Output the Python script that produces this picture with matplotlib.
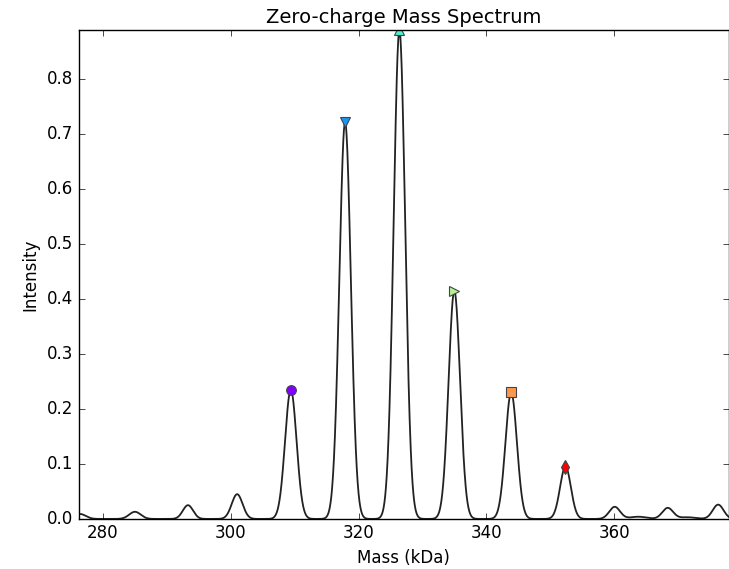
import numpy as np
import matplotlib
matplotlib.use("Agg")
import matplotlib.pyplot as plt

# Peak parameters (mass in kDa, intensity)
peak_mass = [276.4, 285.0, 293.3, 301.0, 309.4, 317.9, 326.4, 335.0, 343.9, 352.4, 360.1, 363.8, 368.4, 371.5, 376.3]
peak_height = [0.009, 0.013, 0.025, 0.045, 0.235, 0.722, 0.889, 0.415, 0.230, 0.095, 0.022, 0.004, 0.020, 0.003, 0.026]
peak_sigma = [0.9, 0.9, 0.8, 0.85, 0.9, 0.9, 0.9, 0.9, 0.9, 0.85, 0.85, 1.3, 0.85, 1.3, 0.85]

# Labelled peaks (markers)
marker_mass = [309.4, 317.9, 326.4, 335.0, 343.9, 352.4]
marker_height = [0.235, 0.722, 0.889, 0.415, 0.230, 0.095]
marker_shapes = ['o', 'v', '^', '>', 's', 'd']

xticks = [280, 300, 320, 340, 360]
yticks = [0.0, 0.1, 0.2, 0.3, 0.4, 0.5, 0.6, 0.7, 0.8]

plt.style.use('classic')
fig = plt.figure(figsize=(7.29, 5.69), dpi=100, facecolor='white')
ax = fig.add_axes([0.108, 0.088, 0.892, 0.859])

mass = np.linspace(270, 385, 4000)
intensity = np.zeros_like(mass)
for m, h, s in zip(peak_mass, peak_height, peak_sigma):
    intensity += h * np.exp(-0.5 * ((mass - m) / s) ** 2)

ax.plot(mass, intensity, color='#222222', linewidth=1.3)

colors = plt.cm.rainbow(np.linspace(0, 1, len(marker_mass)))
for m, h, mk, c in zip(marker_mass, marker_height, marker_shapes, colors):
    ax.plot([m], [h], marker=mk, color=c, markersize=7, markeredgecolor='#444444',
            markeredgewidth=0.8, linestyle='none', clip_on=True)

ax.set_xlim(276.2, 378.0)
ax.set_ylim(0.0, 0.889)
ax.set_xticks(xticks)
ax.set_yticks(yticks)
ax.set_xlabel('Mass (kDa)', fontsize=12)
ax.set_ylabel('Intensity', fontsize=12)
ax.set_title('Zero-charge Mass Spectrum', fontsize=14)
ax.tick_params(labelsize=12)

fig.savefig('out.png', dpi=100, facecolor='white')
